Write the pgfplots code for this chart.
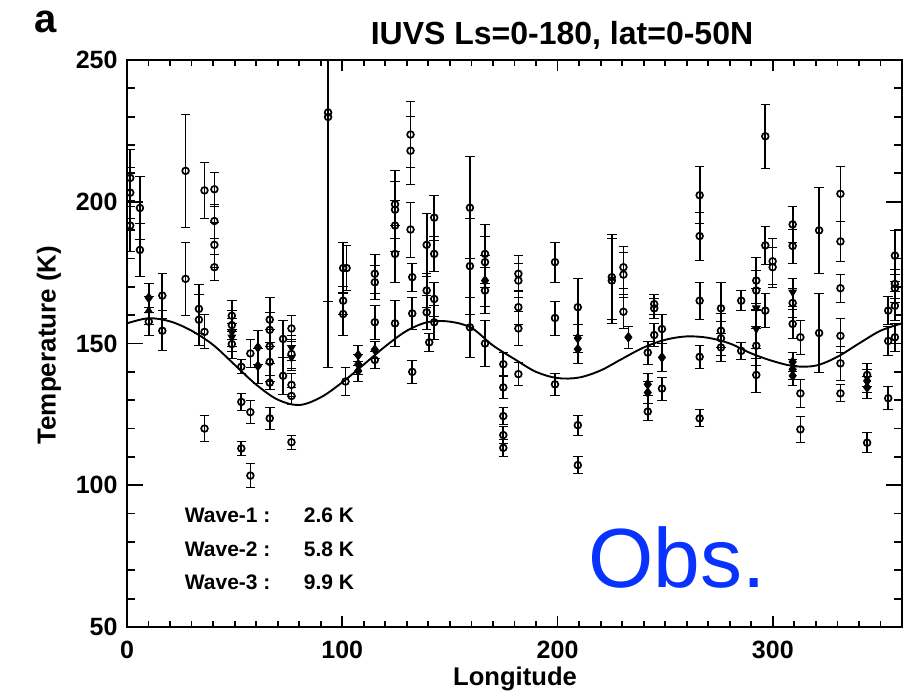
\documentclass[border=0pt]{standalone}
\usepackage{fontspec}
\setmainfont{Liberation Sans}
\usepackage{pgfplots}
\usepackage{pgfplotstable}
\pgfplotsset{compat=1.18}
\definecolor{obsblue}{RGB}{10,50,255}

\pgfplotstableread{
x y e
1.5 208.4 10
1.5 203.2 9
1.5 191.6 9
6 197.8 11
6 183 9.5
10.1 157.7 5
16.4 166.9 8
16.4 154.5 7
27.2 210.9 20
27.2 172.8 13
33.4 162.2 8.5
33.4 158.4 9
36 204 9.8
36 154.1 6
36 120 4.5
40.6 204.4 6
40.6 193.2 6
40.6 184.8 8
40.6 176.9 4.5
48.7 159.8 5.5
48.7 156.5 5
48.7 149.8 5
53.1 141.8 2.5
53.1 129.4 3
53.1 113 2.5
57.3 146.5 5
57.3 125.8 4
57.3 103.4 4.2
66.3 158.4 8
66.3 154.8 6
66.3 149 6
66.3 143.5 7
66.3 136.2 2.5
66.3 123.6 4
72.5 151.6 6.5
72.5 138.6 6.5
76.4 155.3 4.5
76.4 146.3 5
76.4 135.4 4
76.4 131.5 3
76.4 115.2 2.5
93.4 231.5 90
93.4 229.9 65
100.4 176.6 9
100.4 165.1 5
100.4 160.4 7.7
102 176.6 8
101.5 136.6 5
115.1 174.6 7
115.1 171.6 6
115.1 157.5 6
115.1 144.2 3
124.5 199.1 12
124.5 197.2 10
124.5 191.6 9
124.5 181.6 10
124.5 157.1 8
131.7 223.7 11.6
131.7 218 12
131.7 190.2 9.7
132.5 173.4 5
132.5 160.6 5.6
132.5 140 4.2
139.2 184.8 11
139.2 168.7 6
139.2 161 6
140.4 150.4 3.2
142.7 194.4 8
142.7 181.6 6
142.7 165.7 6
142.7 157.5 6
159.3 197.9 18
159.3 177.3 17
159.3 155.7 10.6
166.3 181.6 10.3
166.3 178.7 9
166.3 168.7 8
166.3 150 8
174.8 142.7 4
174.8 134.5 4
174.8 124.4 3
174.8 117.7 3
174.8 113.2 3
181.8 174.6 6.4
181.8 172.2 6
181.8 162.8 6
181.8 155.3 6
181.8 139.2 4
198.8 178.7 7
198.8 159 6
198.8 135.6 4
209.4 162.8 10
209.4 121.2 3.5
209.4 107.1 3
225.2 173.4 15
225.2 172.2 15
230.6 176.9 7.4
230.6 174.3 8
230.6 161.2 6
241.9 146.8 4
241.9 126 3
244.9 163.9 3.5
244.9 162.4 3.5
244.9 153 4
248.5 155.1 5
248.5 134.1 4
266 202.3 10
266 187.9 8.5
266 165.1 6.5
266 145.3 4
266 123.6 3
275.9 162.4 9
275.9 154.5 6
275.9 151.8 6
275.9 148.6 5
285.3 165.1 3.5
285.3 147.4 3
292.3 172.2 8
292.3 168.7 7
292.3 149.2 7
292.3 138.9 6
296.5 223.1 11.4
296.5 184.6 6.6
296.5 161.6 6
299.9 179 8
299.9 176.9 7
309.2 192 6.2
309.2 184.4 6
309.2 164.3 5
309.2 156.9 5
312.8 152.2 6
312.8 132.4 5
312.8 119.7 4.5
321.5 189.9 15
321.5 153.7 14
331.4 202.8 9.7
331.4 186 7
331.4 169.5 5
331.4 152.7 6
331.4 143 6
331.4 132.4 3
343.8 138.9 4
343.8 115 3.5
353.6 161.6 5
353.6 150.9 5
353.6 130.7 4
356.7 181 9
356.7 171 5
356.7 169.5 5
356.7 163.3 5
356.7 152.2 5
}\circdata

\pgfplotstableread{
x y e
10.1 166.1 5
60.8 148.6 6
60.8 142.1 6
107.4 145.9 3.5
107.4 142.7 3.5
107.4 140.3 3.5
115.1 147.8 3
166.3 172.2 9
209.4 151.9 5
209.4 148 5
232.9 152.2 4
241.9 135.6 4
241.9 132.7 4
248.5 145.1 5
309.2 143.5 3.5
309.2 140.9 3.5
309.2 138.6 3.5
343.8 136.8 4
343.8 134.5 4
}\diamdata

\pgfplotstableread{
x y e
48.7 153.9 5
48.7 152.2 5
76.4 148.5 4.5
76.4 145 4.5
292.3 162.5 7
292.3 155.1 7
309.2 168.1 5
}\tridowndata

\pgfplotstableread{
x y e
10.1 161.6 5
}\triupdata

\pgfplotstableread{
x y
0 157.1
10 158.9
20 157.8
30 154.5
40 149.5
50 142.5
60 135.5
70 130.2
80 128.3
90 131.0
100 136.3
110 142.6
120 149.0
130 154.5
140 157.6
150 157.7
160 155.5
170 149.3
180 144.5
190 140.0
200 137.8
210 138.0
220 140.5
230 144.6
240 148.6
250 151.3
260 152.5
270 152.0
280 150.0
290 146.5
300 143.8
310 142.0
320 142.2
330 145.3
340 150.0
350 154.5
360 157.1
}\fitdata

\pgfplotsset{
  errstyle/.style={
    error bars/.cd, y dir=both, y explicit,
    error bar style={line width=0.85pt, black}},
}

\begin{document}
\begin{tikzpicture}
\path (0,0) rectangle (459.5pt,347.5pt);
\begin{axis}[
  at={(63.5pt,34pt)}, anchor=south west,
  width=387.5pt, height=283.5pt, scale only axis,
  xmin=0, xmax=360, ymin=50, ymax=250,
  xtick={0,100,200,300}, minor xtick={10,20,...,350},
  ytick={50,100,150,200,250}, minor ytick={60,70,...,240},
  tick align=inside,
  major tick length=5.3pt, minor tick length=2.8pt,
  axis line style={line width=0.9pt, black},
  tick style={line width=0.9pt, black},
  ticklabel style={font=\fontsize{12.5}{15}\selectfont\bfseries},
  xticklabel style={yshift=-3.5pt},
  yticklabel style={xshift=-1.2pt},
  /pgf/number format/assume math mode=true,
]
\addplot[black, line width=0.95pt, smooth, tension=0.55] table[x=x,y=y]{\fitdata};

\addplot[only marks, black, mark=o, mark size=2.4pt, mark options={scale=0.7, line width=0.85pt, black}, errstyle]
  table[x=x,y=y,y error=e]{\circdata};

\addplot[only marks, black, mark=diamond*, mark size=2.4pt, mark options={black, fill=black}, errstyle]
  table[x=x,y=y,y error=e]{\diamdata};

\addplot[only marks, black, mark=triangle*, mark size=2.4pt, mark options={black, fill=black, rotate=180, scale=0.9}, errstyle]
  table[x=x,y=y,y error=e]{\tridowndata};

\addplot[only marks, black, mark=triangle*, mark size=2.4pt, mark options={black, fill=black, scale=0.9}, errstyle]
  table[x=x,y=y,y error=e]{\triupdata};

% frame ticks (y: longer, as in the original)
\pgfplotsinvokeforeach{100,150,200}{
  \draw[line width=0.9pt, black] (axis cs:0,#1) -- (axis cs:7.4,#1);
  \draw[line width=0.9pt, black] (axis cs:360,#1) -- (axis cs:352.6,#1);
}
\pgfplotsinvokeforeach{60,70,80,90,110,120,130,140,160,170,180,190,210,220,230,240}{
  \draw[line width=0.9pt, black] (axis cs:0,#1) -- (axis cs:3.7,#1);
  \draw[line width=0.9pt, black] (axis cs:360,#1) -- (axis cs:356.3,#1);
}
% frame ticks (x)
\pgfplotsinvokeforeach{100,200,300}{
  \draw[line width=0.9pt, black] (axis cs:#1,50) -- (axis cs:#1,53.8);
  \draw[line width=0.9pt, black] (axis cs:#1,250) -- (axis cs:#1,246.2);
}
\pgfplotsinvokeforeach{10,20,30,40,50,60,70,80,90,110,120,130,140,150,160,170,180,190,210,220,230,240,250,260,270,280,290,310,320,330,340,350}{
  \draw[line width=0.9pt, black] (axis cs:#1,50) -- (axis cs:#1,52);
  \draw[line width=0.9pt, black] (axis cs:#1,250) -- (axis cs:#1,248);
}

\node[anchor=west, inner sep=0pt, font=\fontsize{10.5}{12}\selectfont\bfseries] at (axis cs:26.7,89.5) {Wave-1 :};
\node[anchor=west, inner sep=0pt, font=\fontsize{10.5}{12}\selectfont\bfseries] at (axis cs:26.7,77.5) {Wave-2 :};
\node[anchor=west, inner sep=0pt, font=\fontsize{10.5}{12}\selectfont\bfseries] at (axis cs:26.7,65.7) {Wave-3 :};
\node[anchor=west, inner sep=0pt, font=\fontsize{10.5}{12}\selectfont\bfseries] at (axis cs:82,89.5) {2.6 K};
\node[anchor=west, inner sep=0pt, font=\fontsize{10.5}{12}\selectfont\bfseries] at (axis cs:82,77.5) {5.8 K};
\node[anchor=west, inner sep=0pt, font=\fontsize{10.5}{12}\selectfont\bfseries] at (axis cs:82,65.7) {9.9 K};
\node[anchor=base, inner sep=0pt, font=\fontsize{42}{50}\selectfont, text=obsblue] at (axis cs:255.4,63.8) {Obs.};
\end{axis}
\node[anchor=base, inner sep=0pt, font=\fontsize{16}{19}\selectfont\bfseries] at (281pt,325pt) {IUVS Ls=0-180, lat=0-50N};
\node[anchor=base, inner sep=0pt, font=\fontsize{20}{24}\selectfont\bfseries] at (23pt,331pt) {a};
\node[anchor=center, inner sep=0pt, rotate=90, font=\fontsize{13}{15}\selectfont\bfseries] at (24.5pt,175pt) {Temperature (K)};
\node[anchor=base, inner sep=0pt, font=\fontsize{12.8}{15}\selectfont\bfseries] at (257.5pt,5pt) {Longitude};
\end{tikzpicture}
\end{document}
